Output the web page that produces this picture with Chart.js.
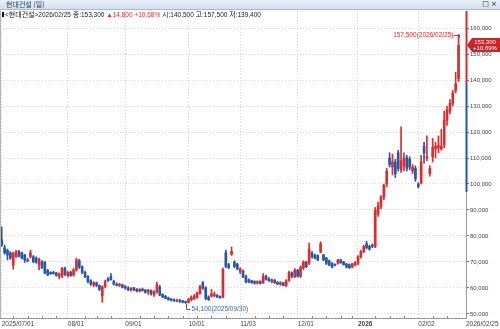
<!DOCTYPE html>
<html><head><meta charset="utf-8">
<script src="https://cdn.jsdelivr.net/npm/chart.js@4"></script>
<style>
html,body{margin:0;padding:0;background:#fff;}
#wrap{position:relative;width:500px;height:329px;overflow:hidden;background:#fff;}
canvas{position:absolute;left:0;top:0;}
#bar{position:absolute;left:0;top:0;width:500px;height:9px;background:linear-gradient(#e8f0f9,#d2dfef);border-bottom:1px solid #a7bad4;z-index:2;}
#bar .t{position:absolute;left:6px;top:0;line-height:9px;font-size:7px;font-family:'Noto Sans CJK KR';color:#1e3456;}
#bar .ic{position:absolute;right:3px;top:0;line-height:9px;font-size:7px;font-family:'DejaVu Sans';color:#222;}
#info{position:absolute;left:2px;top:11px;font-size:6.5px;font-family:'Liberation Sans','Noto Sans CJK KR';line-height:8px;color:#222;white-space:nowrap;z-index:2;}
#info .k{font-size:7px;}
#info .blk{display:inline-block;width:2px;height:5px;background:#111;margin-right:1px;vertical-align:0px;}
#info .r{color:#e0302e;}
</style></head>
<body><div id="wrap">
<canvas id="c" width="500" height="329"></canvas>
<div id="bar"><span class="t">현대건설 (일)</span><span class="ic">□ ×</span></div>
<div id="info"></div>
</div>
<script>
// ---- data (daily candles, 2025/07/01 .. 2026/02/25) ----
const opens = [78500,75500,74500,73500,68800,72000,74000,73500,72700,70600,
72000,72000,71500,68800,70000,70000,66800,66000,66000,65800,
64500,64600,67500,64800,66000,65000,67000,70500,68200,66000,
64500,62800,61200,62000,61000,57000,60500,63500,64500,62500,
61500,61000,61200,60500,60000,59200,60000,59500,58800,59500,
59200,58500,59000,57500,58500,60400,57500,56800,56200,55800,
55500,55000,55300,55000,54800,54500,55500,56000,56500,58000,
62000,60000,56500,56800,57000,57200,56800,56500,73500,69000,
73000,70000,69200,66200,66500,64500,63200,62800,62500,61800,
62500,62000,64500,63500,62500,63000,62200,61500,62000,61000,
63000,65800,64300,66800,64500,67800,70000,69600,73500,72700,
72500,73800,72700,71500,70500,69500,69000,69500,70800,70000,
69200,69000,68000,68800,69500,72000,74000,77000,76000,76500,
76000,88500,91500,95000,100000,110000,106500,108500,112000,105500,
107000,110000,109500,105000,106000,100000,100500,114500,110000,104000,
110500,113500,114000,113500,115000,124500,128000,131000,136000,140500];
const highs = [83500,76500,75000,74000,73800,74500,74500,73800,73000,71500,
74600,72500,72000,71500,70500,70200,67200,66300,66500,66000,
65800,67900,68000,66500,66500,67500,71500,71000,68500,66500,
64800,63200,62500,62300,61200,60800,63000,64000,65500,63000,
62000,61800,61500,61000,60500,60200,60300,59800,59800,60000,
59500,59500,59300,59000,62300,61000,57800,57200,56500,56000,
55800,55700,55600,55300,55000,56000,57000,57500,58500,61000,
62500,60500,57000,59500,58500,57500,57000,67700,74500,69500,
75800,70500,69500,67800,67000,65000,63500,63000,62800,62800,
62800,65500,65000,64000,63500,63300,62500,62500,62200,63200,
66500,66200,67500,67200,68500,70500,70300,77300,74000,73000,
72800,77800,73000,71800,70800,69800,69300,71000,71000,70300,
69500,69300,69500,70200,72500,74500,76500,78000,76500,77000,
91000,93000,95500,100000,106000,112000,111500,109500,113000,122000,
112000,111000,110500,107500,107000,100500,111000,116000,118500,107000,
117500,116000,118500,121000,128000,130000,132500,136000,143000,157500];
const lows = [76000,73000,70800,71000,67200,71800,72000,71200,69800,70000,
71500,69800,69500,67000,67500,65500,64800,65200,65300,64500,
63500,64000,64800,64200,64500,64500,66500,67500,65500,64000,
62000,61000,60500,60500,59000,54500,60000,62500,63000,61200,
60800,60500,60000,59500,59000,58800,59000,58500,58500,58800,
58000,57500,57200,56800,58000,57000,56300,55800,55300,55000,
54800,54600,54500,54300,54100,54200,55000,55500,56000,57500,
59500,55500,55200,56500,56700,56300,56000,56200,67800,67500,
72500,67800,67000,65500,64000,62000,62000,61800,61500,61500,
61500,61800,63000,62500,62000,61800,61300,61000,60800,60500,
62500,64000,64000,64200,64000,67000,67800,69000,71500,71200,
70500,73500,70500,69000,68500,67700,68500,69200,69500,68800,
67700,67500,67700,68500,69000,71500,73500,75000,74500,75500,
75500,87500,90500,94000,99000,106500,103500,102500,105000,104500,
105000,105000,105500,104000,101000,98500,100000,108000,109000,103000,
108500,110000,112000,113000,114000,122500,127000,130000,135000,139400];
const closes = [76500,73500,72700,71500,73500,73800,72200,71500,70800,70400,
73500,70000,70000,71000,67700,65800,65000,65500,65500,64800,
65500,67700,65000,66000,64800,67000,70800,68000,66000,64200,
62500,61500,62000,61000,59500,60500,62500,62800,63200,61500,
61000,61400,60300,60000,59300,60000,59200,58800,59500,59000,
58300,59200,57800,58500,61200,57300,56500,56000,55500,55300,
55000,55400,54800,54500,54300,55700,56500,56800,58200,60500,
60000,56000,55500,57800,57600,56500,56400,67200,68300,67800,
74000,68200,67300,67500,64300,62300,62300,62000,61800,62500,
61800,64500,63300,62800,63200,62000,61500,62000,61000,62800,
66000,64500,66800,64500,68000,70000,68200,75000,72000,71500,
70800,77000,70800,69500,68800,68000,68700,70800,69700,69000,
68000,67800,69200,69800,72000,74000,76000,75500,75000,76000,
90000,91500,95000,99500,105000,107500,108500,104000,106000,109000,
110000,106000,106500,106500,102000,99000,108500,112000,110500,106000,
114000,114500,114800,114500,124500,128500,131000,135000,138500,153300];
const tickIdx  = [0, 23, 43, 65, 83, 103, 124, 145];
const tickText = ['2025/07/01','08/01','09/01','10/01','11/03','12/01','2026','02/02'];
const lastDate = '2026/02/25';
const lowDate  = '2025/09/30';
const minorIdx = [4,9,14,19,29,33,38,48,53,58,63,68,73,78,88,93,98,108,113,118,122,130,135,140,150,155];
const yTicks = [50000,60000,70000,80000,90000,100000,110000,120000,130000,140000,150000,160000];
const prevClose = 138500, upperLimit = 180050, lowerLimit = 96950;
const stockName = '현대건설';

const RED = '#e3292c', BLUE = '#2857a8';
const XMIN = -0.6, XMAX = 161.6;
const FONT = 'Liberation Sans';
const fmt = v => v.toLocaleString('en-US');
const N = closes.length;
const idx = closes.map((_, i) => i);
const colorOf = i => closes[i] >= opens[i] ? RED : BLUE;

// info line
const last = N - 1;
const chg = closes[last] - prevClose;
const pct = (Math.floor(chg / prevClose * 10000) / 100).toFixed(2);
document.getElementById('info').innerHTML =
  '<span class="blk"></span>&lt;<span class="k">' + stockName + '</span>&gt;' + lastDate +
  ' <span class="k">종</span>:' + fmt(closes[last]) +
  ' <span class="r">▲' + fmt(chg) + ' +' + pct + '%</span> <span class="k">시</span>:' + fmt(opens[last]) +
  ' <span class="k">고</span>:' + fmt(highs[last]) + ' <span class="k">저</span>:' + fmt(lows[last]);

const extras = {
  id: 'extras',
  afterDraw(chart) {
    const {ctx, chartArea: a, scales: {x, y}} = chart;
    ctx.save();
    // left frame line
    ctx.strokeStyle = '#b5b5b5'; ctx.lineWidth = 1;
    ctx.beginPath(); ctx.moveTo(a.left + 0.5, a.top); ctx.lineTo(a.left + 0.5, a.bottom); ctx.stroke();
    // minor ticks on x axis
    ctx.strokeStyle = '#8a8a8a';
    minorIdx.forEach(i => {
      const px = Math.round(x.getPixelForValue(i)) + 0.5;
      ctx.beginPath(); ctx.moveTo(px, a.bottom - 2); ctx.lineTo(px, a.bottom); ctx.stroke();
    });
    // price-range colouring of the right axis line
    const ax = a.right + 0.5;
    const yTop = y.getPixelForValue(Math.min(upperLimit, y.max));
    const yPrev = y.getPixelForValue(prevClose);
    const yLow = y.getPixelForValue(Math.max(lowerLimit, y.min));
    ctx.lineWidth = 2;
    ctx.strokeStyle = RED; ctx.beginPath(); ctx.moveTo(ax, yTop); ctx.lineTo(ax, yPrev); ctx.stroke();
    ctx.strokeStyle = '#2a55a6'; ctx.beginPath(); ctx.moveTo(ax, yPrev); ctx.lineTo(ax, yLow); ctx.stroke();
    // current price box
    const cy = Math.round(y.getPixelForValue(closes[last]));
    const bx = a.right + 1;
    ctx.fillStyle = '#c3262b';
    ctx.beginPath();
    ctx.moveTo(bx, cy); ctx.lineTo(bx + 5, cy - 7); ctx.lineTo(500, cy - 7);
    ctx.lineTo(500, cy + 7); ctx.lineTo(bx + 5, cy + 7); ctx.closePath(); ctx.fill();
    ctx.fillStyle = '#fff';
    ctx.font = '6px "' + FONT + '"';
    ctx.textAlign = 'center'; ctx.textBaseline = 'middle';
    ctx.fillText(fmt(closes[last]), 485, cy - 3);
    ctx.fillText('+' + (chg / prevClose * 100).toFixed(2) + '%', 485, cy + 3.5);
    // highest-high annotation
    let hi = 0, lo = 0;
    for (let i = 1; i < N; i++) { if (highs[i] > highs[hi]) hi = i; if (lows[i] < lows[lo]) lo = i; }
    const hx = Math.round(x.getPixelForValue(hi)) + 0.5, hy = Math.round(y.getPixelForValue(highs[hi])) + 0.5;
    ctx.strokeStyle = RED; ctx.lineWidth = 1;
    ctx.beginPath(); ctx.moveTo(hx - 6, hy); ctx.lineTo(hx, hy); ctx.lineTo(hx, hy + 2); ctx.stroke();
    ctx.fillStyle = RED; ctx.font = '6.5px "' + FONT + '"';
    ctx.textAlign = 'right'; ctx.textBaseline = 'middle';
    ctx.fillText(fmt(highs[hi]) + '(' + lastDate + ')', hx - 6, hy);
    // lowest-low annotation
    const lx = Math.round(x.getPixelForValue(lo)) + 0.5, ly = Math.round(y.getPixelForValue(lows[lo]));
    ctx.strokeStyle = '#3f66b5';
    ctx.beginPath(); ctx.moveTo(lx, ly + 1); ctx.lineTo(lx, ly + 6.5); ctx.lineTo(lx + 4, ly + 6.5); ctx.stroke();
    ctx.fillStyle = '#3f66b5'; ctx.textAlign = 'left';
    ctx.fillText(fmt(lows[lo]) + '(' + lowDate + ')', lx + 5, ly + 6.5);
    ctx.restore();
  }
};

new Chart(document.getElementById('c'), {
  type: 'bar',
  data: {
    datasets: [
      { label: 'body', order: 0, grouped: false, barThickness: 2, minBarLength: 1,
        data: idx.map(i => ({x: i, y: [opens[i], closes[i]]})),
        backgroundColor: c => colorOf(c.dataIndex) },
      { label: 'wick', order: 1, grouped: false, barThickness: 1, minBarLength: 1,
        data: idx.map(i => ({x: i, y: [lows[i], highs[i]]})),
        backgroundColor: c => colorOf(c.dataIndex) }
    ]
  },
  options: {
    responsive: false, animation: false, devicePixelRatio: 1,
    layout: { padding: { top: 11, left: 0, right: 0, bottom: 0 } },
    plugins: { legend: { display: false }, tooltip: { enabled: false } },
    scales: {
      x: {
        type: 'linear', position: 'bottom', min: XMIN, max: XMAX, offset: false,
        grid: { offset: false, color: '#dadada', drawTicks: false, lineWidth: 1 },
        border: { display: true, color: '#9a9a9a', dash: [1, 2] },
        afterBuildTicks: a => { a.ticks = tickIdx.map(v => ({value: v})).concat([{value: XMAX}]); },
        afterFit: a => { a.height = 11; a.paddingLeft = 0; a.paddingRight = 0; },
        ticks: {
          autoSkip: false, maxRotation: 0, align: 'start', padding: 2, color: '#444',
          font: c => ({ family: FONT, size: 6.5,
                        weight: (c.tick && c.tick.label === '2026') ? 'bold' : 'normal' }),
          callback: v => { const k = tickIdx.indexOf(v); return k >= 0 ? tickText[k] : (v === XMAX ? lastDate : ''); }
        }
      },
      y: {
        type: 'linear', position: 'right', min: 48460, max: 166540, beginAtZero: false,
        grid: { color: '#dadada', tickLength: 3, tickColor: '#777', tickBorderDash: [] },
        border: { display: true, color: '#9a9a9a', dash: [1, 2] },
        afterBuildTicks: a => { a.ticks = yTicks.map(v => ({value: v})); },
        afterFit: a => { a.width = 34; },
        ticks: { padding: 1, color: '#444', font: { family: FONT, size: 6 },
                 callback: v => fmt(v) }
      }
    }
  },
  plugins: [extras]
});
</script>
</body></html>
